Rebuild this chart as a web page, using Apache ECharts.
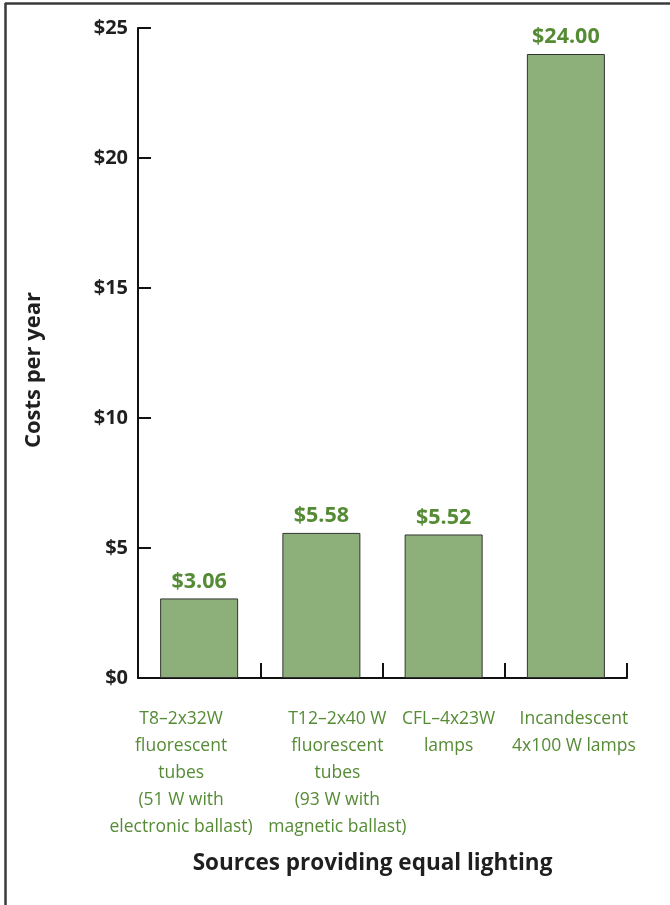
<!DOCTYPE html>
<html>
<head>
<meta charset="utf-8">
<script src="https://cdn.jsdelivr.net/npm/echarts@6/dist/echarts.min.js"></script>
<style>
  html, body { margin: 0; padding: 0; background: #fff; }
  #chart { width: 670px; height: 905px; }
</style>
</head>
<body>
<div id="chart"></div>
<script>
// 光源种类
const categories = [
  'T8\u20132x32W\nfluorescent\ntubes\n(51 W with\nelectronic ballast)',
  'T12\u20132x40 W\nfluorescent\ntubes\n(93 W with\nmagnetic ballast)',
  'CFL\u20134x23W\nlamps',
  'Incandescent\n4x100 W lamps'
];
// 每年费用
const costs = [3.06, 5.58, 5.52, 24.0];
// 标签的水平偏移(参考图里标签互相挤开了)
const labelShift = [-18, 16, 5, 8];

const green = '#558b34';
const dark = '#1f1f1f';

const echart = echarts.init(document.getElementById('chart'));

const option = {
  backgroundColor: '#fff',
  animation: false,
  grid: { left: 138, right: 43, top: 28, bottom: 227 },
  graphic: [
    // 外框(只有上边和左边)
    { type: 'line', shape: { x1: 5, y1: 3.5, x2: 670, y2: 3.5 }, style: { stroke: '#3a3a3a', lineWidth: 2.5 } },
    { type: 'line', shape: { x1: 5.5, y1: 3, x2: 5.5, y2: 905 }, style: { stroke: '#3a3a3a', lineWidth: 2.5 } }
  ],
  xAxis: {
    type: 'category',
    data: categories.map((c, i) => ({
      value: c,
      textStyle: {
        padding: labelShift[i] > 0 ? [0, 0, 0, labelShift[i] * 2] : [0, -labelShift[i] * 2, 0, 0]
      }
    })),
    boundaryGap: true,
    name: 'Sources providing equal lighting',
    nameLocation: 'middle',
    nameGap: 174,
    nameTextStyle: { fontFamily: 'Open Sans', fontWeight: 'bold', fontSize: 22.5, color: dark, padding: [0, 20, 0, 0] },
    axisLine: { lineStyle: { color: '#111', width: 2 } },
    axisTick: { show: true, inside: true, length: 15, interval: 0, alignWithLabel: false, lineStyle: { color: '#111', width: 2 } },
    axisLabel: {
      interval: 0,
      margin: 28,
      fontFamily: 'Open Sans',
      fontSize: 17.5,
      lineHeight: 27,
      color: green,
      align: 'center',
      verticalAlign: 'top'
    },
    splitLine: { show: false }
  },
  yAxis: {
    type: 'value',
    min: 0,
    max: 25,
    interval: 5,
    name: 'Costs per year',
    nameLocation: 'middle',
    nameGap: 93,
    nameRotate: 90,
    nameTextStyle: { fontFamily: 'Open Sans', fontWeight: 'bold', fontSize: 22, color: dark, padding: [0, 34, 0, 0] },
    axisLine: { show: true, lineStyle: { color: '#111', width: 2 } },
    axisTick: { show: true, inside: true, length: 13, lineStyle: { color: '#111', width: 2 } },
    axisLabel: {
      formatter: v => '$' + v,
      margin: 10,
      fontFamily: 'Open Sans',
      fontWeight: 'bold',
      fontSize: 20,
      color: dark
    },
    splitLine: { show: false }
  },
  series: [
    {
      type: 'bar',
      data: costs,
      barWidth: 78,
      itemStyle: { color: '#8db07a', borderColor: '#333', borderWidth: 1 },
      label: {
        show: true,
        position: 'top',
        distance: 6,
        formatter: p => '$' + p.value.toFixed(2),
        fontFamily: 'Open Sans',
        fontWeight: 'bold',
        fontSize: 21.5,
        color: green
      }
    }
  ]
};

echart.setOption(option);
</script>
</body>
</html>
